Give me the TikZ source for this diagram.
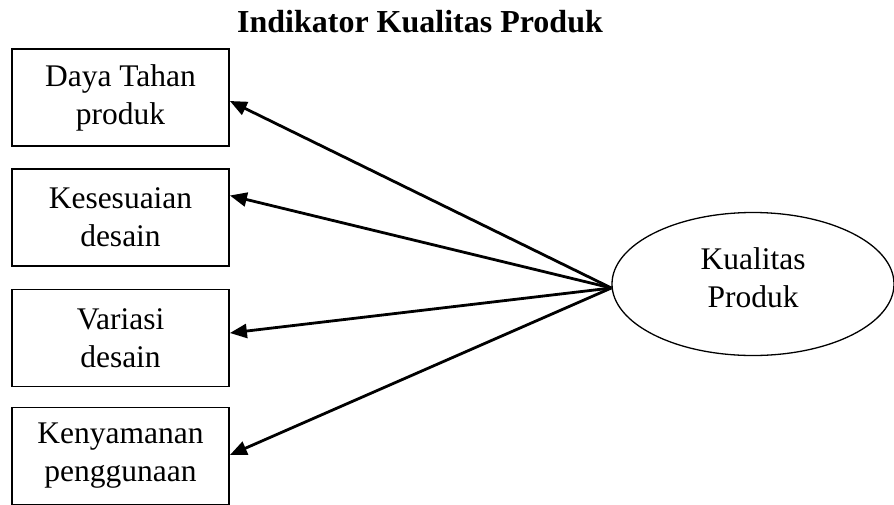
\documentclass[tikz,border=0pt]{standalone}
\usepackage{fontspec}
\setmainfont{Liberation Serif}
\usetikzlibrary{shapes.geometric,arrows.meta}
\begin{document}
\begin{tikzpicture}[x=1pt,y=-1pt,
  indicator/.style={draw,line width=1.8pt,minimum width=217pt,minimum height=97pt,
    inner sep=0pt,align=center,font=\fontsize{31.5}{38}\selectfont},
  construct/.style={draw,ellipse,line width=1.3pt,minimum width=282pt,minimum height=143pt,
    inner sep=0pt,align=center,font=\fontsize{31.5}{38}\selectfont},
  heading/.style={font=\bfseries\fontsize{32}{38}\selectfont,inner sep=0pt,anchor=base},
  link/.style={line width=2.8pt,-{Triangle[length=17pt,width=14pt]}}]
\useasboundingbox (0,0) rectangle (894,504);

% title
\node[heading] (title) at (420,32) {Indikator Kualitas Produk};

% indicator boxes
\node[indicator] (d1) at (120.5,97.5) {Daya Tahan\\produk};
\node[indicator] (d2) at (120.5,217.5) {Kesesuaian\\desain};
\node[indicator] (d3) at (120.5,338) {Variasi\\desain};
\node[indicator] (d4) at (120.5,456) {Kenyamanan\\penggunaan};

% latent construct (the strut lifts the two lines slightly above centre)
\node[construct] (kp) at (753,284) {Kualitas\\Produk\rule[-12pt]{0pt}{12pt}};
\coordinate (hub) at ([yshift=-4pt]kp.west);

% reflective arrows
\draw[link] (hub) -- ([yshift=-3.5pt]d1.east);
\draw[link] (hub) -- ([yshift=22pt]d2.east);
\draw[link] (hub) -- ([yshift=5pt]d3.east);
\draw[link] (hub) -- ([yshift=1pt]d4.east);
\end{tikzpicture}
\end{document}
